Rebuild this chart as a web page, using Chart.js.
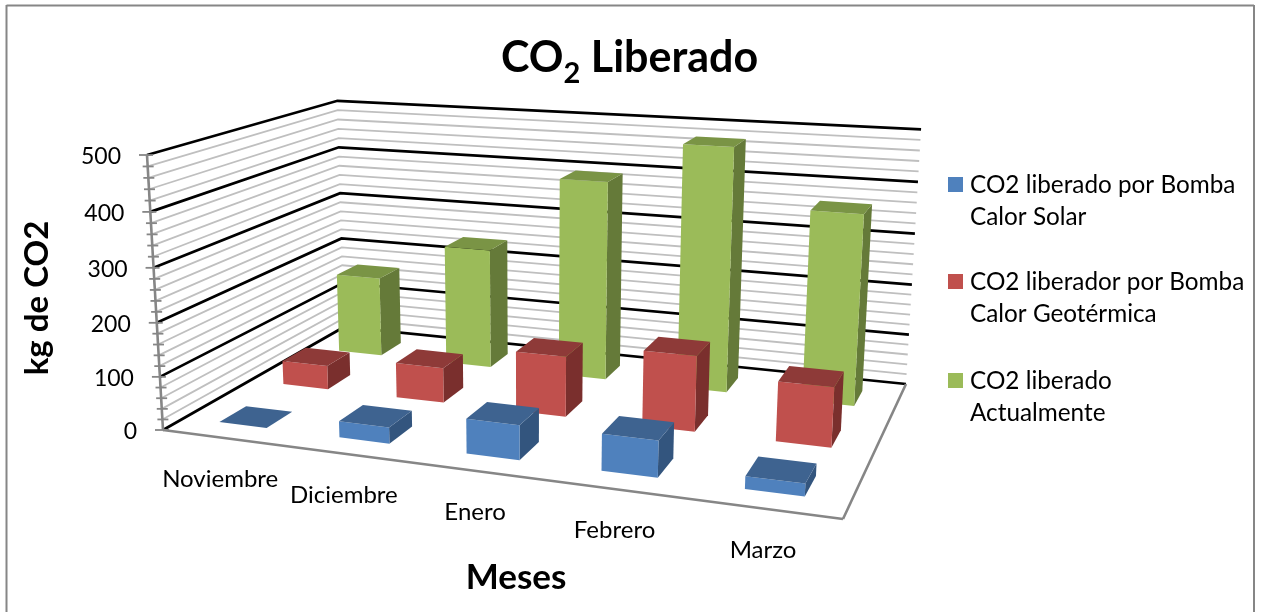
<!DOCTYPE html>
<html>
<head>
<meta charset="utf-8">
<title>CO2 Liberado</title>
<script src="https://cdn.jsdelivr.net/npm/chart.js@4"></script>
<style>
  html, body { margin: 0; background: #fff; }
  canvas { display: block; }
</style>
</head>
<body>
<canvas id="chart" width="1262" height="612"></canvas>
<script>
const categories = ['Noviembre', 'Diciembre', 'Enero', 'Febrero', 'Marzo'];
const solarValues = [0, 30, 63, 65, 22];
const geoValues = [47, 68, 115, 141, 110];
const currentValues = [164, 242, 395, 476, 366];
const seriesLabels = [
    ['CO2 liberado por Bomba', 'Calor Solar'],
    ['CO2 liberador por Bomba', 'Calor Geotérmica'],
    ['CO2 liberado', 'Actualmente']
];
const faceColors = [
    { front: '#4F81BD', top: '#3E6390', side: '#33557E' },
    { front: '#C0504D', top: '#8E3A38', side: '#7A2F2D' },
    { front: '#9BBB59', top: '#7A9445', side: '#657A39' }
];
const FONT = 'Lato, sans-serif';

// box corners on screen: floor, then the three top corners that exist
const floorFL = [163, 430], floorFR = [843, 519], floorBR = [906, 384], floorBL = [344, 327];
const topFL = [147, 155], topBL = [335, 104], topBR = [922, 130];

// solve the projection (u, v, w) -> screen from those corners
function buildProjection() {
    const sub = (p, q) => [p[0] - q[0], p[1] - q[1]];
    const d1 = sub(floorFR, floorBR), d2 = sub(floorBL, floorBR);
    const s = [floorFL[0] - floorFR[0] + floorBR[0] - floorBL[0], floorFL[1] - floorFR[1] + floorBR[1] - floorBL[1]];
    const det = d1[0] * d2[1] - d2[0] * d1[1];
    const g = (s[0] * d2[1] - d2[0] * s[1]) / det;
    const h = (d1[0] * s[1] - s[0] * d1[1]) / det;
    const a = [0, 1].map(k => floorFR[k] - floorFL[k] + g * floorFR[k]);
    const b = [0, 1].map(k => floorBL[k] - floorFL[k] + h * floorBL[k]);
    let num = 0, den = 0;
    [0, 1].forEach(k => {
        let m = topFL[k] - topBL[k];
        num += m * (topBL[k] * (h + 1) - b[k] - topFL[k]);
        den += m * m;
        m = topFL[k] - topBR[k];
        num += m * (topBR[k] * (g + h + 1) - a[k] - b[k] - topFL[k]);
        den += m * m;
    });
    const i = num / den;
    const c = [0, 1].map(k => topFL[k] * (i + 1) - floorFL[k]);
    return (u, v, w) => {
        const z = g * u + h * v + i * w + 1;
        return [0, 1].map(k => (a[k] * u + b[k] * v + c[k] * w + floorFL[k]) / z);
    };
}
const project = buildProjection();

function poly(ctx, pts, fill) {
    ctx.beginPath();
    pts.forEach((p, n) => n ? ctx.lineTo(p[0], p[1]) : ctx.moveTo(p[0], p[1]));
    ctx.closePath();
    ctx.fillStyle = fill;
    ctx.fill();
}

function segment(ctx, p, q, color, width) {
    ctx.beginPath();
    ctx.moveTo(p[0], p[1]);
    ctx.lineTo(q[0], q[1]);
    ctx.strokeStyle = color;
    ctx.lineWidth = width;
    ctx.stroke();
}

function label(ctx, text, x, y, font, align) {
    ctx.font = font;
    ctx.fillStyle = '#000';
    ctx.textAlign = align || 'left';
    ctx.textBaseline = 'alphabetic';
    ctx.fillText(text, x, y);
}

const walls = {
    id: 'walls',
    beforeDatasetsDraw(chart) {
        const { ctx, scales: { y } } = chart;
        ctx.save();
        // chart frame
        segment(ctx, [6.5, 5.5], [1254, 5.5], '#868686', 2);
        segment(ctx, [6.5, 5], [6.5, 612], '#868686', 2);
        segment(ctx, [1254, 5], [1254, 612], '#868686', 2);

        const minor = y.ticks.filter(t => t.value % 100 !== 0);
        const major = y.ticks.filter(t => t.value % 100 === 0);
        const grid = (t, color, width) => {
            const w = (y.bottom - y.getPixelForValue(t.value)) / y.height;
            const a = project(0, 0, w), b = project(0, 1, w), c = project(1, 1, w);
            ctx.beginPath();
            ctx.moveTo(a[0], a[1]);
            ctx.lineTo(b[0], b[1]);
            ctx.lineTo(c[0], c[1]);
            ctx.strokeStyle = color;
            ctx.lineWidth = width;
            ctx.lineJoin = 'miter';
            ctx.stroke();
        };
        minor.forEach(t => grid(t, '#BFBFBF', 1.8));
        major.forEach(t => grid(t, '#000', 2.7));

        // floor edges and value axis with its tick marks
        segment(ctx, project(0, 0, 0), project(1, 0, 0), '#868686', 2.6);
        segment(ctx, project(1, 0, 0), project(1, 1, 0), '#868686', 2.6);
        segment(ctx, project(0, 0, 0), project(0, 0, 1), '#868686', 2.6);
        y.ticks.forEach(t => {
            const w = (y.bottom - y.getPixelForValue(t.value)) / y.height;
            const p = project(0, 0, w);
            const left = t.value % 100 === 0 ? 8 : 5;
            segment(ctx, [p[0] - left, p[1]], [p[0] + 6, p[1]], '#868686', 1.8);
        });
        ctx.restore();
    }
};

const boxes = {
    id: 'boxes',
    beforeDatasetDraw(chart, args) {
        const { ctx, chartArea: area } = chart;
        const colors = faceColors[args.index];
        const seriesDepth = 1 / seriesLabels.length;
        const v0 = (args.index + 0.3) * seriesDepth, v1 = (args.index + 0.7) * seriesDepth;
        ctx.save();
        args.meta.data.forEach(bar => {
            const u0 = (bar.x - bar.width / 2 - area.left) / area.width;
            const u1 = (bar.x + bar.width / 2 - area.left) / area.width;
            const w = (area.bottom - bar.y) / area.height;
            poly(ctx, [project(u1, v0, 0), project(u1, v1, 0), project(u1, v1, w), project(u1, v0, w)], colors.side);
            poly(ctx, [project(u0, v0, 0), project(u1, v0, 0), project(u1, v0, w), project(u0, v0, w)], colors.front);
            poly(ctx, [project(u0, v0, w), project(u1, v0, w), project(u1, v1, w), project(u0, v1, w)], colors.top);
        });
        ctx.restore();
        return false;
    }
};

const texts = {
    id: 'texts',
    afterDatasetsDraw(chart) {
        const { ctx, chartArea: area, scales: { x, y } } = chart;
        ctx.save();

        // title with subscript
        let tx = 501;
        [['CO', 43, 72], ['2', 29, 83], [' Liberado', 43, 72]].forEach(([piece, size, base]) => {
            label(ctx, piece, tx, base, 'bold ' + size + 'px ' + FONT);
            tx += ctx.measureText(piece).width;
        });

        // value labels
        y.ticks.filter(t => t.value % 100 === 0).forEach(t => {
            const p = project(0, 0, (y.bottom - y.getPixelForValue(t.value)) / y.height);
            label(ctx, String(t.value), p[0] - 26, p[1] + 9, '23px ' + FONT, 'right');
        });

        // month labels under the floor edge
        categories.forEach((name, n) => {
            const p = project((x.getPixelForValue(n) - area.left) / area.width, 0, 0);
            label(ctx, name, p[0] - 2, p[1] + 49, '24px ' + FONT, 'center');
        });

        label(ctx, 'Meses', 516, 589, 'bold 35px ' + FONT, 'center');
        ctx.translate(48, 298);
        ctx.rotate(-Math.PI / 2);
        label(ctx, 'kg de CO2', 0, 0, 'bold 33px ' + FONT, 'center');
        ctx.setTransform(1, 0, 0, 1, 0, 0);

        // legend
        const rows = [193, 290, 389];
        seriesLabels.forEach((lines, n) => {
            ctx.fillStyle = faceColors[n].front;
            ctx.fillRect(948, rows[n] - 16, 15, 15);
            lines.forEach((line, k) => label(ctx, line, 970, rows[n] + k * 31.5, '24.3px ' + FONT));
        });
        ctx.restore();
    }
};

new Chart(document.getElementById('chart'), {
    type: 'bar',
    data: {
        labels: categories,
        datasets: [solarValues, geoValues, currentValues].map((values, n) => ({
            label: seriesLabels[n].join(' '),
            data: values,
            backgroundColor: faceColors[n].front,
            grouped: false,
            categoryPercentage: 1,
            barPercentage: 0.4
        }))
    },
    options: {
        responsive: false,
        animation: false,
        plugins: { legend: { display: false }, title: { display: false }, tooltip: { enabled: false } },
        scales: {
            x: { display: false, ticks: { autoSkip: false } },
            y: { display: false, min: 0, max: 500, ticks: { stepSize: 20, autoSkip: false } }
        }
    },
    plugins: [walls, boxes, texts]
});
</script>
</body>
</html>
